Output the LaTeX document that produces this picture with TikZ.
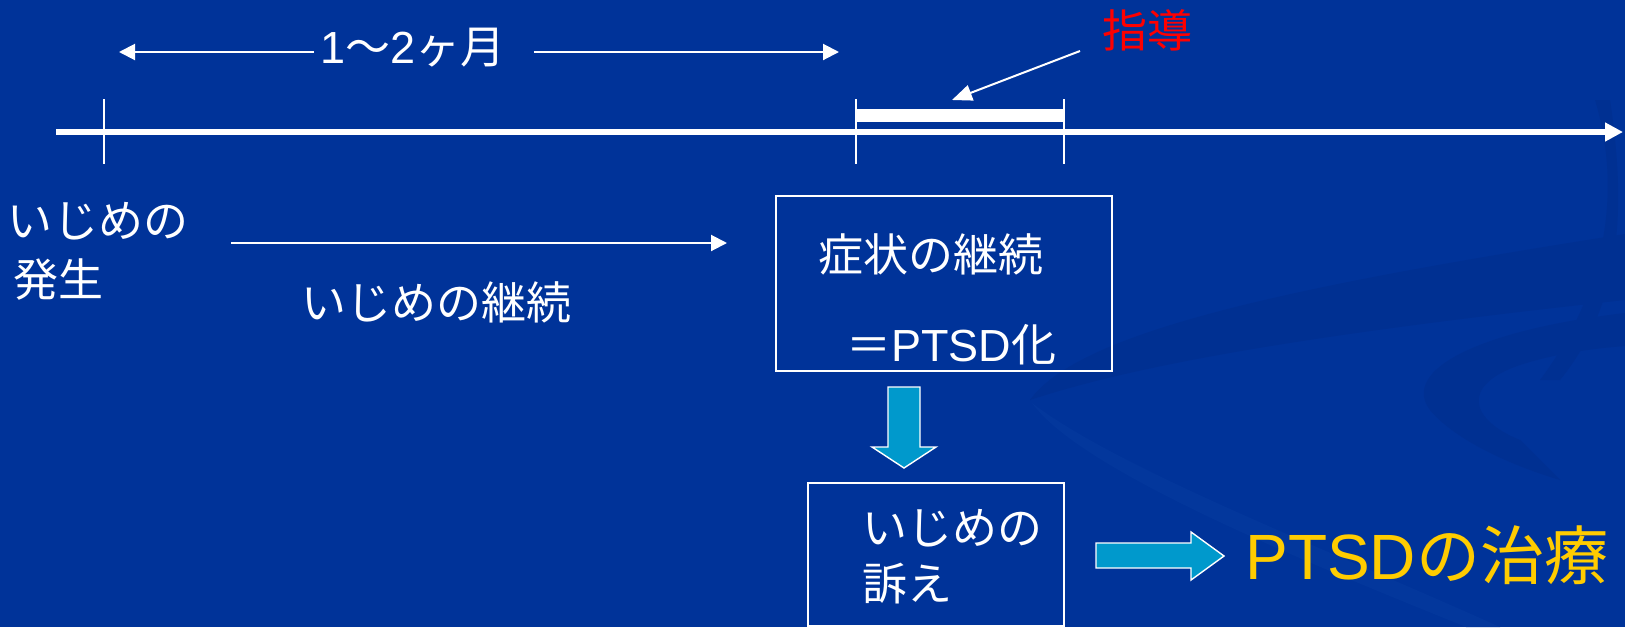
\documentclass[tikz,border=0pt]{standalone}
\usepackage{fontspec}
\setmainfont{Noto Sans CJK JP}
\newfontfamily\latinfont{Liberation Sans}
\usetikzlibrary{arrows.meta}
\definecolor{bg}{HTML}{003399}
\definecolor{swirlA}{HTML}{003092}
\definecolor{swirlB}{HTML}{03379C}
\definecolor{blockc}{HTML}{0099CC}
\definecolor{yel}{HTML}{FFCC00}
\tikzset{
  lbl/.style={text=white, inner sep=0pt, font=\fontsize{22.5pt}{27pt}\selectfont},
  redlbl/.style={text=red, inner sep=0pt, font=\fontsize{22.5pt}{27pt}\selectfont},
  biglbl/.style={text=yel, inner sep=0pt, font=\fontsize{32pt}{38pt}\selectfont},
  timeline/.style={white, line width=3pt, -{Triangle[length=9pt,width=9pt]}},
  tickline/.style={white, line width=0.7pt},
  thinarrow/.style={white, line width=1pt, -{Triangle[length=8pt,width=8pt]}},
  pointer/.style={white, line width=1pt, -{Triangle[length=10pt,width=8pt]}},
  framebox/.style={draw=white, line width=1pt, inner sep=0pt},
  blockarrow/.style={fill=blockc, draw=white, line width=0.7pt},
}
\begin{document}
\begin{tikzpicture}[x=0.5pt, y=-0.5pt]
\fill[bg] (0,0) rectangle (1625,627);
\useasboundingbox (0,0) rectangle (1625,627);
% background swirls (subtle)
\fill[swirlA] (1030,400) .. controls (1080,330) and (1300,285) .. (1625,234) -- (1625,300) .. controls (1350,330) and (1150,360) .. (1030,400) -- cycle;
\fill[swirlA] (1625,313) .. controls (1480,330) and (1400,370) .. (1430,410) .. controls (1455,440) and (1510,465) .. (1560,480) -- (1520,440) .. controls (1470,420) and (1460,385) .. (1520,365) .. controls (1560,352) and (1600,348) .. (1625,346) -- cycle;
\fill[swirlB] (1032,403) .. controls (1080,470) and (1300,560) .. (1466,627) -- (1500,627) .. controls (1330,550) and (1120,470) .. (1032,403) -- cycle;
\fill[swirlA] (1595,100) .. controls (1625,200) and (1600,300) .. (1540,380) -- (1560,380) .. controls (1625,300) and (1625,200) .. (1610,100) -- cycle;
% timeline
\coordinate (tl0) at (56,132);
\coordinate (tl1) at (1623,132);
\draw[timeline] (tl0) -- (tl1);
\coordinate (k1a) at (104,99); \coordinate (k1b) at (104,164);
\coordinate (k2a) at (856,99); \coordinate (k2b) at (856,164);
\coordinate (k3a) at (1064,99); \coordinate (k3b) at (1064,164);
\draw[tickline] (k1a) -- (k1b);
\draw[tickline] (k2a) -- (k2b);
\draw[tickline] (k3a) -- (k3b);
\fill[white] (856,109) rectangle (1064,122);
% period label
\node[lbl] (period) at (413,48) {{\latinfont 1}～{\latinfont 2}ヶ月};
\coordinate (pl) at (119,52);
\coordinate (pr) at (839,52);
\draw[thinarrow] (period.west) ++(-6,4) coordinate (pls) -- (pl);
\draw[thinarrow] (period.east) ++(28,4) coordinate (prs) -- (pr);
% guidance
\node[redlbl] (guide) at (1147,30) {指導};
\coordinate (gs) at (1080,51);
\coordinate (gt) at (952,100);
\draw[pointer] (gs) -- (gt);
% start
\node[lbl] (start1) at (98,221) {いじめの};
\node[lbl, anchor=west] (start2) at (13,280) {発生};
\coordinate (cs) at (231,243);
\coordinate (ce) at (727,243);
\draw[thinarrow] (cs) -- (ce);
\node[lbl] (cont) at (436,302) {いじめの継続};
% box 1
\node[framebox, minimum width=168pt, minimum height=87.5pt] (box1) at (944,283.5) {};
\node[lbl] (sym) at (931,254) {症状の継続};
\node[lbl, anchor=west] (ptsdka) at (846,345) {＝{\latinfont PTSD}化};
% down block arrow
\path[blockarrow] (888,387) -- (920,387) -- (920,447) -- (936,447) -- (904,468) -- (872,447) -- (888,447) -- cycle;
% box 2
\node[framebox, minimum width=128pt, minimum height=71.5pt] (box2) at (936,554.5) {};
\node[lbl, anchor=west] (ap1) at (862,528) {いじめの};
\node[lbl, anchor=west] (ap2) at (862,584) {訴え};
% right block arrow
\path[blockarrow] (1096,543) -- (1191,543) -- (1191,532) -- (1224,556) -- (1191,580) -- (1191,568) -- (1096,568) -- cycle;
\node[biglbl, anchor=west] (treat) at (1245,555) {{\latinfont PTSD}の治療};
\end{tikzpicture}
\end{document}
